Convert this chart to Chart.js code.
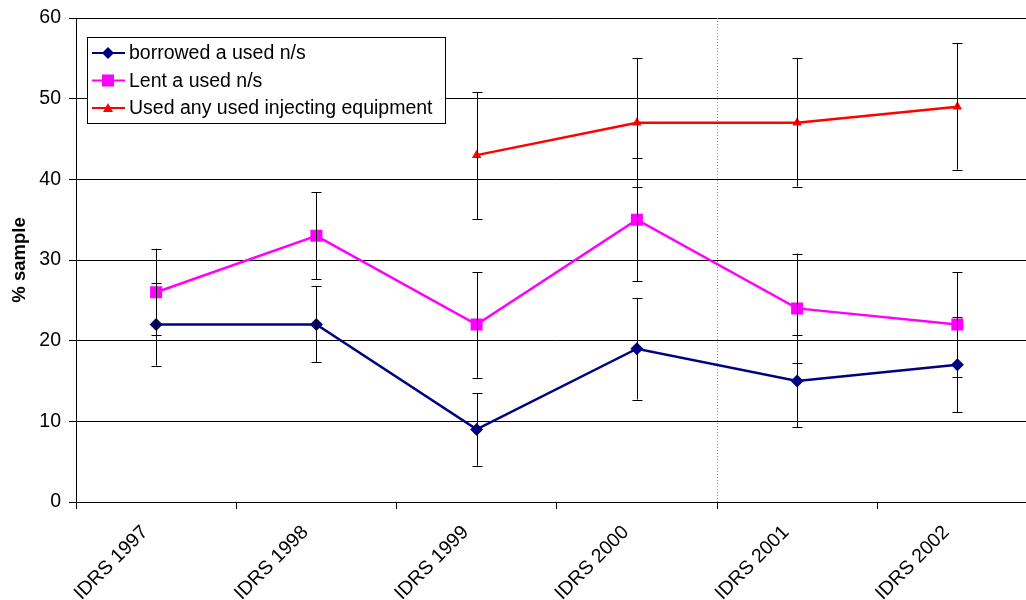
<!DOCTYPE html>
<html>
<head>
<meta charset="utf-8">
<style>
  html, body { margin: 0; padding: 0; background: #fff; overflow: hidden; }
  #wrap { width: 1046px; height: 600px; }
</style>
<script src="https://cdn.jsdelivr.net/npm/chart.js@4/dist/chart.umd.min.js"></script>
</head>
<body>
<div id="wrap"><canvas id="chart" width="1046" height="600"></canvas></div>
<script>
let categories = ['IDRS 1997', 'IDRS 1998', 'IDRS 1999', 'IDRS 2000', 'IDRS 2001', 'IDRS 2002'];

let borrowed = [22, 22, 9, 19, 15, 17];
let borrowedLow = [16.9, 17.3, 4.5, 12.7, 9.3, 11.1];
let borrowedHigh = [27.1, 26.8, 13.5, 25.3, 20.7, 22.9];

let lent = [26, 33, 22, 35, 24, 22];
let lentLow = [20.7, 27.6, 15.4, 27.4, 17.2, 15.5];
let lentHigh = [31.4, 38.4, 28.5, 42.6, 30.8, 28.5];

let usedAny = [null, null, 43, 47, 47, 49];
let usedAnyLow = [null, null, 35.1, 39.1, 39.1, 41.2];
let usedAnyHigh = [null, null, 50.8, 55.0, 55.0, 56.9];

let yTicks = [0, 10, 20, 30, 40, 50, 60];

const FONT = 'Arial, "Liberation Sans", sans-serif';

// error bars, drawn from the low / high arrays through the scales
const errorBars = {
    id: 'errorBars',
    afterDatasetsDraw(chart) {
        const ctx = chart.ctx;
        const x = chart.scales.x, y = chart.scales.y;
        ctx.save();
        ctx.strokeStyle = '#000';
        ctx.lineWidth = 1;
        chart.data.datasets.forEach(ds => {
            ds.data.forEach((v, i) => {
                if (v === null) return;
                const px = Math.round(x.getPixelForValue(i)) + 0.5;
                const top = y.getPixelForValue(ds.high[i]);
                const bot = y.getPixelForValue(ds.low[i]);
                ctx.beginPath();
                ctx.moveTo(px, top);
                ctx.lineTo(px, bot);
                ctx.moveTo(px - 5, Math.round(top) + 0.5);
                ctx.lineTo(px + 5, Math.round(top) + 0.5);
                ctx.moveTo(px - 5, Math.round(bot) + 0.5);
                ctx.lineTo(px + 5, Math.round(bot) + 0.5);
                ctx.stroke();
            });
        });
        ctx.restore();
    }
};

// dotted divider between IDRS 2000 and IDRS 2001
const divider = {
    id: 'divider',
    beforeDatasetsDraw(chart) {
        const ctx = chart.ctx;
        const x = chart.scales.x, area = chart.chartArea;
        const px = Math.round((x.getPixelForValue(3) + x.getPixelForValue(4)) / 2) + 0.5;
        ctx.save();
        ctx.strokeStyle = '#888';
        ctx.lineWidth = 1;
        ctx.setLineDash([1, 2]);
        ctx.beginPath();
        ctx.moveTo(px, area.top);
        ctx.lineTo(px, area.bottom);
        ctx.stroke();
        ctx.restore();
    }
};

// boxed legend in the top-left of the plot
const boxLegend = {
    id: 'boxLegend',
    afterDraw(chart) {
        const ctx = chart.ctx;
        const bx = 87, by = 37, bw = 358, bh = 86;
        ctx.save();
        ctx.fillStyle = '#fff';
        ctx.fillRect(bx, by, bw, bh);
        ctx.strokeStyle = '#000';
        ctx.lineWidth = 1;
        ctx.strokeRect(bx + 0.5, by + 0.5, bw, bh);
        ctx.font = '19.5px ' + FONT;
        ctx.textBaseline = 'middle';
        chart.data.datasets.forEach((ds, i) => {
            const cy = by + 16 + i * 27.5;
            ctx.strokeStyle = ds.borderColor;
            ctx.lineWidth = 2;
            ctx.beginPath();
            ctx.moveTo(92, cy);
            ctx.lineTo(125, cy);
            ctx.stroke();
            ctx.fillStyle = ds.borderColor;
            ctx.beginPath();
            if (ds.pointStyle === 'rectRot') {
                ctx.moveTo(108, cy - 6); ctx.lineTo(114, cy); ctx.lineTo(108, cy + 6); ctx.lineTo(102, cy);
            } else if (ds.pointStyle === 'rect') {
                ctx.rect(102, cy - 6, 12, 12);
            } else {
                ctx.moveTo(108, cy - 5); ctx.lineTo(113, cy + 4); ctx.lineTo(103, cy + 4);
            }
            ctx.closePath();
            ctx.fill();
            ctx.fillStyle = '#000';
            ctx.fillText(ds.label, 129, cy + 1);
        });
        ctx.restore();
    }
};

new Chart(document.getElementById('chart'), {
    type: 'line',
    data: {
        labels: categories,
        datasets: [
            {
                label: 'borrowed a used n/s',
                data: borrowed, low: borrowedLow, high: borrowedHigh,
                borderColor: '#000080', backgroundColor: '#000080',
                borderWidth: 2.5, pointStyle: 'rectRot', pointRadius: 6.5, pointBorderWidth: 0
            },
            {
                label: 'Lent a used n/s',
                data: lent, low: lentLow, high: lentHigh,
                borderColor: '#FF00FF', backgroundColor: '#FF00FF',
                borderWidth: 2.5, pointStyle: 'rect', pointRadius: 8.5, pointBorderWidth: 0
            },
            {
                label: 'Used any used injecting equipment',
                data: usedAny, low: usedAnyLow, high: usedAnyHigh,
                borderColor: '#FF0000', backgroundColor: '#FF0000',
                borderWidth: 2.5, pointStyle: 'triangle', pointRadius: 5.5, pointBorderWidth: 0
            }
        ]
    },
    options: {
        responsive: false,
        animation: false,
        layout: { padding: { top: 18, right: 0, left: 0, bottom: 0 } },
        plugins: {
            legend: { display: false },
            tooltip: { enabled: false }
        },
        scales: {
            x: {
                offset: true,
                grid: { offset: true, drawOnChartArea: false, drawTicks: true, tickLength: 7, color: '#000' },
                border: { color: '#000', width: 1 },
                ticks: {
                    color: '#000',
                    font: { family: FONT, size: 19.5 },
                    maxRotation: 45, minRotation: 45,
                    labelOffset: -11,
                    padding: 12
                },
                afterFit(scale) { scale.height = 98; }
            },
            y: {
                min: 0, max: 60,
                afterBuildTicks(scale) { scale.ticks = yTicks.map(v => ({ value: v })); },
                grid: { color: '#000', tickLength: 7, lineWidth: 1 },
                border: { color: '#000', width: 1 },
                ticks: {
                    color: '#000',
                    font: { family: FONT, size: 19.5 },
                    padding: 8
                },
                title: {
                    display: true,
                    text: '% sample',
                    color: '#000',
                    font: { family: FONT, size: 18.5, weight: 'bold' },
                    padding: { top: 9, bottom: 4 }
                },
                afterFit(scale) {
                    scale.width = 76;
                    scale.paddingTop = 0;
                }
            }
        }
    },
    plugins: [divider, errorBars, boxLegend]
});
</script>
</body>
</html>
